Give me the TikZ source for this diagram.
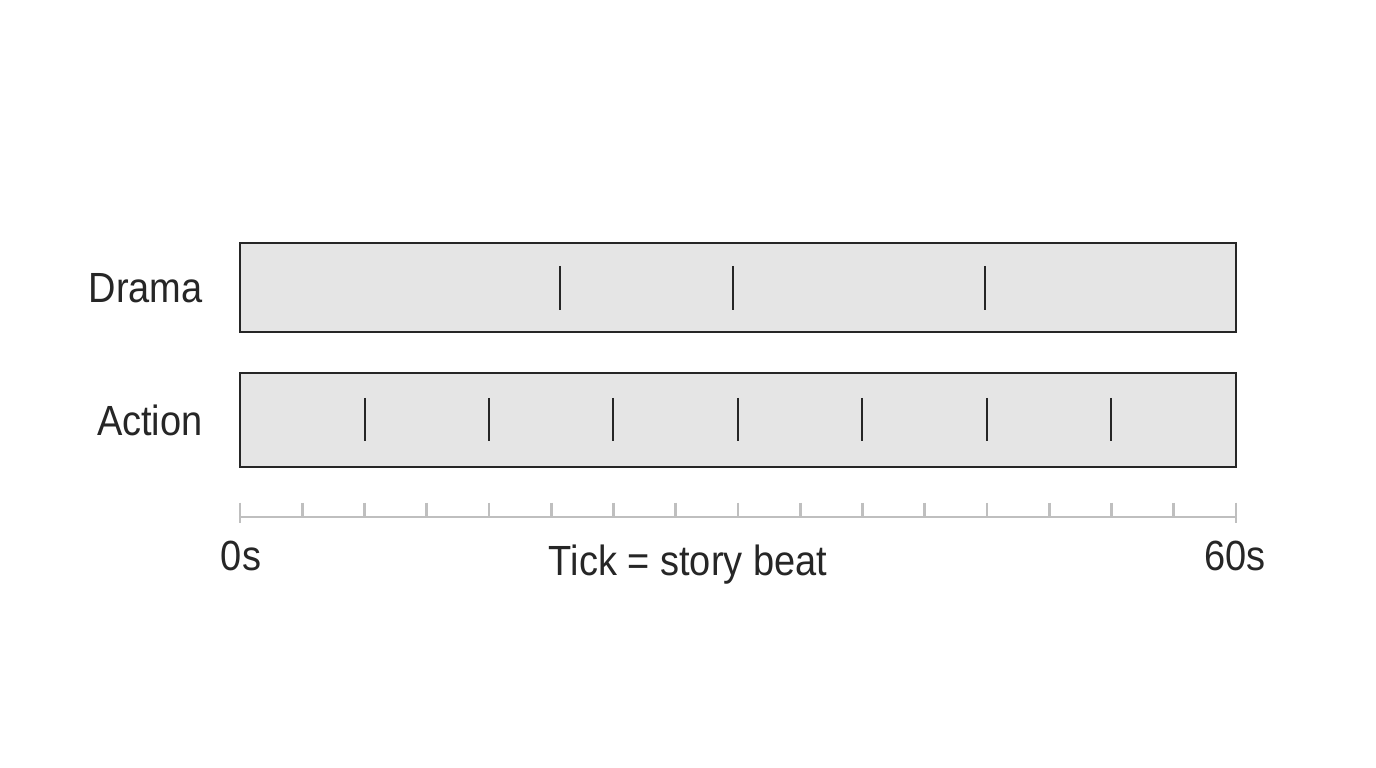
\documentclass[tikz,border=0pt]{standalone}
\usepackage{fontspec}
\setmainfont{Liberation Sans}
\usetikzlibrary{positioning}
\colorlet{barfill}{black!10}
\colorlet{axiscol}{black!25}
\tikzset{
  bar/.style={draw=black!85, line width=0.8pt, fill=barfill},
  beat/.style={line width=0.8pt, black!85},
  lbl/.style={font=\fontsize{12}{14}\selectfont, text=black!85}
}
\begin{document}
\begin{tikzpicture}[x=0.01cm,y=-0.01cm]
\useasboundingbox[fill=white] (0,0) rectangle (1376,768);

% ================= Bars =================
\draw[bar] (240,243) rectangle (1236,332);
\draw[bar] (240,373) rectangle (1236,467);
\node[lbl, anchor=east] (drama) at (215,288) {\scalebox{0.9}[1]{Drama}};
\node[lbl, anchor=east] (action) at (215,420) {\scalebox{0.9}[1]{Action}};

% Drama beats
\foreach \x in {560,733,985}{
  \draw[beat] (\x,266) -- (\x,310);
}

% Action beats
\foreach \x in {365,489,613,738,862,987,1111}{
  \draw[beat] (\x,398) -- (\x,441);
}

% ================= Axis =================
\draw[axiscol, line width=0.8pt] (240,517) -- (1236,517);
\foreach \i in {0,...,16}{
  \draw[axiscol, line width=0.8pt] ({240+62.25*\i},503) -- ({240+62.25*\i},517);
}
\draw[axiscol, line width=0.8pt] (240,503) -- (240,523);
\draw[axiscol, line width=0.8pt] (1236,503) -- (1236,523);

\node[lbl] (start) at (241,556) {\scalebox{0.9}[1]{0s}};
\node[lbl] (end) at (1235,556) {\scalebox{0.9}[1]{60s}};
\node[lbl] (note) at (688,565) {\scalebox{0.9}[1]{Tick = story beat}};
\end{tikzpicture}
\end{document}
